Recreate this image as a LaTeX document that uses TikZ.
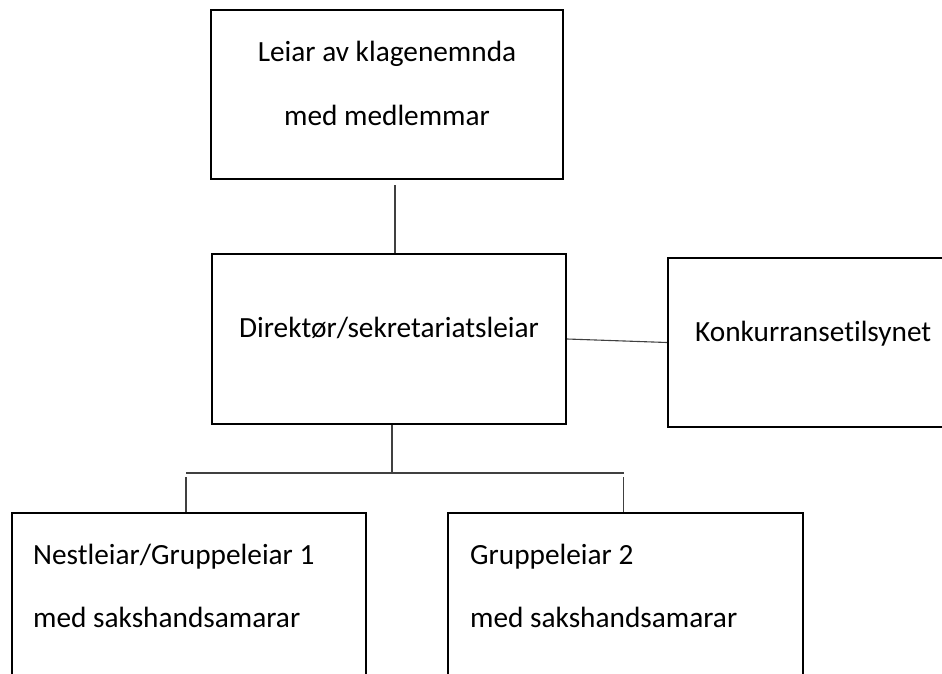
\documentclass[tikz,border=0pt]{standalone}
\usepackage{fontspec}
\setmainfont{Carlito}[Ligatures=NoCommon]
\usetikzlibrary{positioning}
\tikzset{
  orgbox/.style={draw=black,line width=2.1pt,fill=white,inner sep=0pt},
  orgtext/.style={font=\fontsize{29.3}{63}\selectfont,inner sep=0pt,anchor=base},
  link/.style={draw=black!75,line width=1.1pt}
}

\begin{document}
\begin{tikzpicture}[x=1pt,y=-1pt]
  \useasboundingbox (0,0) rectangle (942,674);
  \clip (0,0) rectangle (942,674);

  % boxes
  \node[orgbox,minimum width=352pt,minimum height=169pt] (lead) at (387,94.5) {};
  \node[orgbox,minimum width=354pt,minimum height=170pt] (dir) at (389,339) {};
  \node[orgbox,minimum width=290pt,minimum height=169pt] (comp) at (813,342.5) {};
  \node[orgbox,minimum width=354pt,minimum height=170pt] (grp1) at (189,598) {};
  \node[orgbox,minimum width=355pt,minimum height=170pt] (grp2) at (625.5,598) {};

  % texts (base = last line)
  \node[orgtext,align=center] (leadtxt) at (387,125)
    {Leiar av klagenemnda\\med medlemmar};
  \node[orgtext] (dirtxt) at (389,337) {Direktør/sekretariatsleiar};
  \node[orgtext,anchor=base west] (comptxt) at (695,341) {Konkurransetilsynet};
  \node[orgtext,align=left,anchor=base west] (grp1txt) at (33,627)
    {Nestleiar/Gruppeleiar 1\\med sakshandsamarar};
  \node[orgtext,align=left,anchor=base west] (grp2txt) at (470,627)
    {Gruppeleiar 2\\med sakshandsamarar};

  % lines
  \coordinate (spine) at (395,0);
  \coordinate (bar) at (392,473);
  \draw[link] ([yshift=-5pt]lead.south -| spine) -- (dir.north -| spine);
  \draw[link] (dir.east) -- (comp.west);
  \draw[link] (dir.south -| bar) -- (bar);
  \draw[link] ([xshift=-3pt]grp1.north |- bar) -- ([xshift=-2pt]grp2.north |- bar);
  \draw[link] ([xshift=-3pt,yshift=-4pt]grp1.north |- bar) -- ([xshift=-3pt]grp1.north);
  \draw[link] ([xshift=-2pt,yshift=-4pt]grp2.north |- bar) -- ([xshift=-2pt]grp2.north);
\end{tikzpicture}
\end{document}
